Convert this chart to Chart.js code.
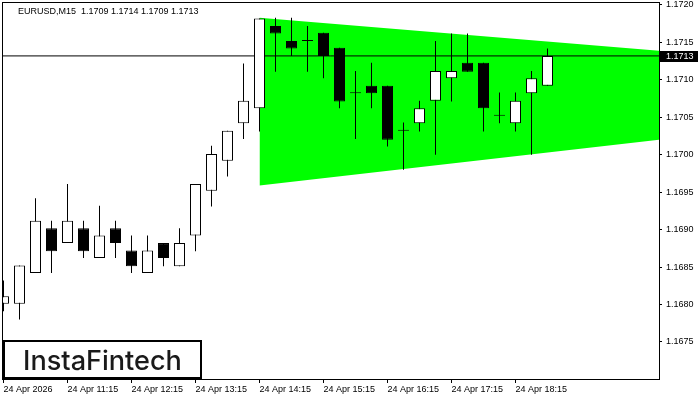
<!DOCTYPE html>
<html>
<head>
<meta charset="utf-8">
<script src="https://cdn.jsdelivr.net/npm/chart.js@4.4.1/dist/chart.umd.min.js"></script>
<style>
  html, body { margin: 0; padding: 0; background: #fff; }
</style>
</head>
<body>
<canvas id="c" width="700" height="400"></canvas>
<script>
// EURUSD M15 candles (index 0 = 24 Apr 10:15)
const opens  = [1.16801, 1.16801, 1.16842, 1.16902, 1.16882, 1.16902, 1.16862, 1.16902, 1.16872, 1.16842,
                1.16882, 1.16851, 1.16892, 1.16952, 1.16992, 1.17042, 1.17062, 1.17172, 1.17152, 1.17152,
                1.17163, 1.17143, 1.17082, 1.17092, 1.17092, 1.17032, 1.17042, 1.17072, 1.17102, 1.17123,
                1.17123, 1.17052, 1.17042, 1.17082, 1.17092];
const highs  = [1.16832, 1.16852, 1.16942, 1.16912, 1.16961, 1.16912, 1.16932, 1.16912, 1.16892, 1.16892,
                1.16882, 1.16902, 1.16961, 1.17012, 1.17032, 1.17122, 1.17182, 1.17183, 1.17183, 1.17172,
                1.17163, 1.17143, 1.17112, 1.17123, 1.17092, 1.17043, 1.17072, 1.17152, 1.17162, 1.17162,
                1.17123, 1.17083, 1.17083, 1.17112, 1.17142];
const lows   = [1.16791, 1.16780, 1.16842, 1.16842, 1.16882, 1.16862, 1.16862, 1.16862, 1.16842, 1.16842,
                1.16851, 1.16851, 1.16871, 1.16931, 1.16971, 1.17021, 1.17031, 1.17111, 1.17132, 1.17111,
                1.17102, 1.17062, 1.17021, 1.17062, 1.17011, 1.16980, 1.17031, 1.17000, 1.17071, 1.17111,
                1.17031, 1.17042, 1.17031, 1.17000, 1.17092];
const closes = [1.16811, 1.16852, 1.16912, 1.16871, 1.16912, 1.16871, 1.16892, 1.16882, 1.16851, 1.16872,
                1.16862, 1.16882, 1.16961, 1.17001, 1.17032, 1.17072, 1.17182, 1.17162, 1.17142, 1.17152,
                1.17132, 1.17071, 1.17082, 1.17082, 1.17020, 1.17032, 1.17062, 1.17112, 1.17112, 1.17111,
                1.17062, 1.17052, 1.17072, 1.17102, 1.17132];

// time axis labels, one every 4 bars
const tickIdx    = [0, 4, 8, 12, 16, 20, 24, 28, 32];
const tickLabels = ["24 Apr 2026", "24 Apr 11:15", "24 Apr 12:15", "24 Apr 13:15", "24 Apr 14:15",
                    "24 Apr 15:15", "24 Apr 16:15", "24 Apr 17:15", "24 Apr 18:15"];

// triangle pattern (bar index -> price)
const triX      = [16, 41];
const triTop    = [1.17183, 1.17139];
const triBottom = [1.16959, 1.17020];

const lastPrice = 1.17132;
const titleText = "EURUSD,M15  1.1709 1.1714 1.1709 1.1713";
const logoText  = "InstaFintech";

const xMin = -0.09375, xMax = 40.96875;

Chart.defaults.font.family = "'Liberation Sans', Arial, sans-serif";
Chart.defaults.font.size = 9;
Chart.defaults.color = "#000";

const idx = opens.map((_, i) => i);
const up = idx.map(i => closes[i] >= opens[i]);

const overlay = {
  id: "overlay",
  afterDraw(chart) {
    const ctx = chart.ctx;
    const a = chart.chartArea;
    ctx.save();
    // frame
    ctx.strokeStyle = "#000";
    ctx.lineWidth = 1;
    ctx.strokeRect(a.left + 0.5, a.top + 0.5, a.right - a.left, a.bottom - a.top);
    // title
    ctx.fillStyle = "#000";
    ctx.font = "9px 'Liberation Sans', Arial, sans-serif";
    ctx.textBaseline = "alphabetic";
    ctx.textAlign = "left";
    ctx.fillText(titleText, 18, 14);
    // current price label
    const py = chart.scales.y.getPixelForValue(lastPrice);
    ctx.fillStyle = "#000";
    ctx.fillRect(a.right + 1, Math.round(py) - 5, 38, 11);
    ctx.fillStyle = "#fff";
    ctx.textBaseline = "middle";
    ctx.fillText(lastPrice.toFixed(4), 666, Math.round(py) + 0.5);
    // logo
    ctx.fillStyle = "#fff";
    ctx.fillRect(3, 340, 198, 38);
    ctx.lineWidth = 2;
    ctx.strokeStyle = "#000";
    ctx.strokeRect(4, 341, 197, 37);
    let fs = 28;
    ctx.font = "500 " + fs + "px Inter, sans-serif";
    fs = fs * 159 / ctx.measureText(logoText).width;
    ctx.font = "500 " + fs + "px Inter, sans-serif";
    ctx.fillStyle = "#1a1a1a";
    ctx.textBaseline = "alphabetic";
    ctx.fillText(logoText, 23, 370);
    ctx.restore();
  }
};

const data = {
  datasets: [
    {
      type: "line",
      data: triX.map((x, i) => ({ x: x, y: triTop[i] })),
      borderWidth: 0,
      pointRadius: 0,
      order: 10,
    },
    {
      type: "line",
      data: triX.map((x, i) => ({ x: x, y: triBottom[i] })),
      borderWidth: 0,
      pointRadius: 0,
      fill: "-1",
      backgroundColor: "#00ff00",
      order: 10,
    },
    {
      type: "line",
      data: [{ x: xMin, y: lastPrice }, { x: xMax, y: lastPrice }],
      borderColor: "#000",
      borderWidth: 1,
      pointRadius: 0,
      order: 5,
    },
    {
      type: "bar",
      data: idx.map(i => ({ x: i, y: [lows[i], highs[i]] })),
      backgroundColor: "#000",
      borderWidth: 0,
      barThickness: 1,
      grouped: false,
      inflateAmount: 0,
      order: 2,
    },
    {
      type: "bar",
      data: idx.map(i => ({ x: i, y: [opens[i], closes[i]] })),
      backgroundColor: idx.map(i => up[i] ? "#fff" : "#000"),
      borderColor: "#000",
      borderWidth: 1,
      borderSkipped: false,
      barThickness: 11,
      minBarLength: 1,
      grouped: false,
      inflateAmount: 0,
      order: 1,
    },
  ],
};

const config = {
  type: "bar",
  data: data,
  options: {
    responsive: false,
    animation: false,
    layout: { padding: { left: 2, top: 2, right: 0, bottom: 0 } },
    plugins: { legend: { display: false }, tooltip: { enabled: false } },
    scales: {
      x: {
        type: "linear",
        offset: false,
        min: xMin,
        max: xMax,
        grid: { offset: false, drawOnChartArea: false, drawTicks: true, tickLength: 4, color: "#000" },
        border: { display: true, color: "#000" },
        ticks: {
          autoSkip: false,
          maxRotation: 0,
          align: "start",
          padding: 1,
          callback: v => tickLabels[tickIdx.indexOf(v)] || "",
        },
        afterBuildTicks: s => { s.ticks = tickIdx.map(v => ({ value: v })); },
        afterFit: s => { s.height = 21; s.paddingLeft = 0; s.paddingRight = 0; },
      },
      y: {
        position: "right",
        min: 1.167005,
        max: 1.17204,
        grid: { drawOnChartArea: false, drawTicks: true, tickLength: 3, color: "#000" },
        border: { display: true, color: "#000" },
        ticks: {
          stepSize: 0.0005,
          includeBounds: false,
          padding: 4,
          callback: v => v.toFixed(4),
        },
        afterFit: s => { s.width = 41; s.paddingTop = 0; s.paddingBottom = 0; },
      },
    },
  },
  plugins: [overlay],
};

const chart = new Chart(document.getElementById("c").getContext("2d"), config);
</script>
</body>
</html>
